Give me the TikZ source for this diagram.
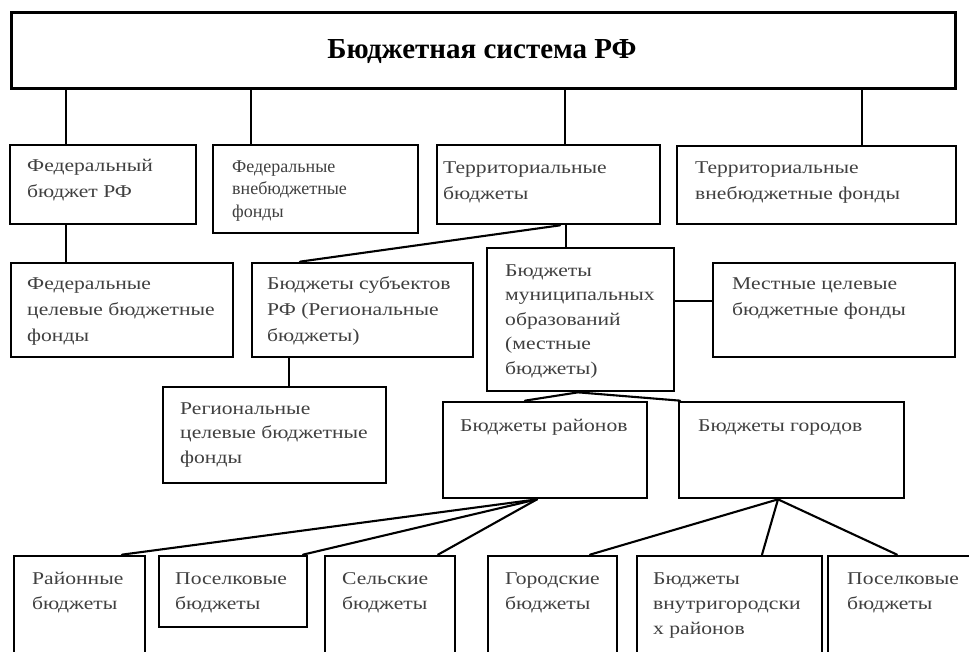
\documentclass[tikz,border=0pt]{standalone}
\usepackage{fontspec}
\setmainfont[FakeStretch=1.2]{Liberation Serif}
\newfontfamily\titlefont{Liberation Serif}
\usetikzlibrary{fit}
\tikzset{
  box/.style={draw=black, line width=2.7pt, inner sep=0pt, fill=none},
  txt/.style={anchor=north west, inner sep=0pt, align=left, text=black!75},
  conn/.style={draw=black, line width=2.1pt, line cap=round},
  vconn/.style={draw=black, line width=1.7pt},
}
% #1 name, #2 x, #3 first baseline y, #4 line spacing, #5 font size, #6 text
\newcommand\mytext[6]{\node[txt, font=\fontsize{#5}{#4}\selectfont] (#1) at (#2, #3-0.7*#4) {\strut #6};}
\begin{document}
\begin{tikzpicture}[x=1pt,y=-1pt]
\clip (0,0) rectangle (969,652);
\fill[white] (0,0) rectangle (969,652);

% top box
\node[box, line width=3pt, fit={(11,13)(955,89)}] (top) {};
\node[anchor=base, font=\titlefont\fontsize{29}{34}\bfseries\selectfont] (title) at (482,59) {Бюджетная система РФ};

% row 2
\node[box, fit={(10,145)(196,224)}] (fb) {};
\node[box, fit={(213,145)(418,233)}] (ff) {};
\node[box, fit={(437,145)(660,224)}] (tb) {};
\node[box, fit={(677,146)(956,224)}] (tf) {};
\mytext{fbt}{27}{171}{26}{18}{Федеральный\\бюджет РФ}
\node[txt, font=\titlefont\fontsize{18}{22.5}\selectfont] (fft) at (232, 172-15.75) {\strut Федеральные\\внебюджетные\\фонды};
\mytext{tbt}{443}{173}{26}{18}{Территориальные\\бюджеты}
\mytext{tft}{695}{173}{26}{18}{Территориальные\\внебюджетные фонды}

% row 3
\node[box, fit={(11,263)(233,357)}] (fcf) {};
\node[box, fit={(252,263)(473,357)}] (reg) {};
\node[box, fit={(487,248)(674,391)}] (mun) {};
\node[box, fit={(713,263)(955,357)}] (lcf) {};
\mytext{fcft}{27}{289}{26}{18}{Федеральные\\целевые бюджетные\\фонды}
\mytext{regt}{267}{289}{26}{18}{Бюджеты субъектов\\РФ (Региональные\\бюджеты)}
\mytext{munt}{505}{276}{24.5}{18}{Бюджеты\\муниципальных\\образований\\(местные\\бюджеты)}
\mytext{lcft}{732}{289}{26}{18}{Местные целевые\\бюджетные фонды}

% row 4
\node[box, fit={(163,387)(386,483)}] (rcf) {};
\node[box, fit={(443,402)(647,498)}] (rai) {};
\node[box, fit={(679,402)(904,498)}] (gor) {};
\mytext{rcft}{180}{414}{24.5}{18}{Региональные\\целевые бюджетные\\фонды}
\mytext{rait}{460}{431}{25}{18}{Бюджеты районов}
\mytext{gort}{698}{431}{25}{18}{Бюджеты городов}

% row 5 (boxes run past the lower edge)
\node[box, fit={(14,556)(145,690)}] (rb) {};
\node[box, fit={(159,556)(307,627)}] (pb) {};
\node[box, fit={(325,556)(455,690)}] (sb) {};
\node[box, fit={(488,556)(617,690)}] (gb) {};
\node[box, fit={(637,556)(822,690)}] (vb) {};
\node[box, fit={(828,556)(990,690)}] (pbb) {};
\mytext{rbt}{32}{584}{25}{18}{Районные\\бюджеты}
\mytext{pbt}{175}{584}{25}{18}{Поселковые\\бюджеты}
\mytext{sbt}{342}{584}{25}{18}{Сельские\\бюджеты}
\mytext{gbt}{505}{584}{25}{18}{Городские\\бюджеты}
\mytext{vbt}{653}{584}{25}{18}{Бюджеты\\внутригородски\\х районов}
\mytext{pbbt}{847}{584}{25}{18}{Поселковые\\бюджеты}

% connectors
\draw[vconn] (66,0 |- top.south) -- (66,0 |- fb.north);
\draw[vconn] (251,0 |- top.south) -- (251,0 |- ff.north);
\draw[vconn] (565,0 |- top.south) -- (565,0 |- tb.north);
\draw[vconn] (862,0 |- top.south) -- (862,0 |- tf.north);

\draw[conn] (66,0 |- fb.south) -- (66,0 |- fcf.north);
\draw[conn] (560,0 |- tb.south) -- (300,0 |- reg.north);
\draw[conn] (566,0 |- tb.south) -- (566,0 |- mun.north);
\draw[conn] (mun.east |- 0,301) -- (lcf.west |- 0,301);
\draw[conn] (289,0 |- reg.south) -- (289,0 |- rcf.north);

\draw[conn] (578,0 |- mun.south) -- (525,0 |- rai.north);
\draw[conn] (578,0 |- mun.south) -- (680,0 |- gor.north);

\draw[conn] (537,0 |- rai.south) -- (122,0 |- rb.north);
\draw[conn] (537,0 |- rai.south) -- (303,0 |- pb.north);
\draw[conn] (537,0 |- rai.south) -- (438,0 |- sb.north);

\draw[conn] (778,0 |- gor.south) -- (590,0 |- gb.north);
\draw[conn] (778,0 |- gor.south) -- (762,0 |- vb.north);
\draw[conn] (778,0 |- gor.south) -- (897,0 |- pbb.north);
\end{tikzpicture}
\end{document}
